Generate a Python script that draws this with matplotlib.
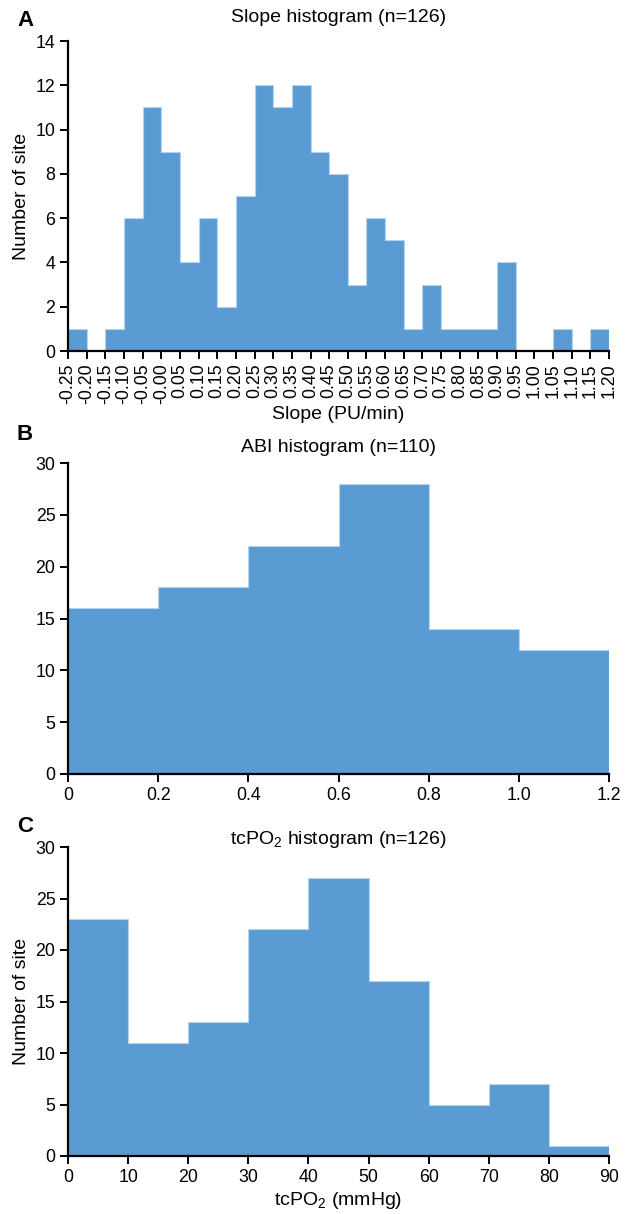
import numpy as np
import matplotlib
matplotlib.use('Agg')
import matplotlib.pyplot as plt

plt.rcParams['font.family'] = ['Liberation Sans', 'DejaVu Sans']
plt.rcParams['mathtext.default'] = 'regular'

# panel A: slope histogram, bin width 0.05
slope_edges = np.round(np.arange(-0.25, 1.2001, 0.05), 2)
slope_counts = [1, 0, 1, 6, 11, 9, 4, 6, 2, 7, 12, 11, 12, 9, 8,
                3, 6, 5, 1, 3, 1, 1, 1, 4, 0, 0, 1, 0, 1]
slope_ticklabels = ['-0.25', '-0.20', '-0.15', '-0.10', '-0.05', '-0.00',
                    '0.05', '0.10', '0.15', '0.20', '0.25', '0.30', '0.35',
                    '0.40', '0.45', '0.50', '0.55', '0.60', '0.65', '0.70',
                    '0.75', '0.80', '0.85', '0.90', '0.95', '1.00', '1.05',
                    '1.10', '1.15', '1.20']

# panel B: ABI histogram
abi_edges = [0, 0.2, 0.4, 0.6, 0.8, 1.0, 1.2]
abi_counts = [16, 18, 22, 28, 14, 12]
abi_ticklabels = ['0', '0.2', '0.4', '0.6', '0.8', '1.0', '1.2']

# panel C: tcPO2 histogram
tcpo2_edges = [0, 10, 20, 30, 40, 50, 60, 70, 80, 90]
tcpo2_counts = [23, 11, 13, 22, 27, 17, 5, 7, 1]

BAR = '#5b9bd3'
EDGE = '#b5d4f0'
W, H = 633, 1214

fig = plt.figure(figsize=(W / 100, H / 100), dpi=100)


def make_ax(top_px, bottom_px):
    left, right = 68, 609
    return fig.add_axes([left / W, 1 - bottom_px / H, (right - left) / W,
                         (bottom_px - top_px) / H])


def style(ax):
    for s in ['top', 'right']:
        ax.spines[s].set_visible(False)
    for s in ['left', 'bottom']:
        ax.spines[s].set_linewidth(1.6)
    ax.tick_params(direction='out', length=6, width=1.4, labelsize=12.8,
                   pad=3)


ax_a = make_ax(41, 351)
ax_b = make_ax(463, 774)
ax_c = make_ax(847, 1156)

ax_a.stairs(slope_counts, slope_edges, fill=True, facecolor=BAR,
            edgecolor=EDGE, linewidth=0.8)
ax_a.set_xlim(-0.25, 1.20)
ax_a.set_ylim(0, 14)
ax_a.set_yticks(range(0, 15, 2))
ax_a.set_xticks(slope_edges)
ax_a.set_xticklabels(slope_ticklabels, rotation=90)
ax_a.set_xlabel('Slope (PU/min)', fontsize=14, labelpad=1)
ax_a.set_ylabel('Number of site', fontsize=14, labelpad=4)
style(ax_a)

ax_b.stairs(abi_counts, abi_edges, fill=True, facecolor=BAR,
            edgecolor=EDGE, linewidth=0.8)
ax_b.set_xlim(0, 1.2)
ax_b.set_ylim(0, 30)
ax_b.set_yticks(range(0, 31, 5))
ax_b.set_xticks(abi_edges)
ax_b.set_xticklabels(abi_ticklabels)
style(ax_b)

ax_c.stairs(tcpo2_counts, tcpo2_edges, fill=True, facecolor=BAR,
            edgecolor=EDGE, linewidth=0.8)
ax_c.set_xlim(0, 90)
ax_c.set_ylim(0, 30)
ax_c.set_yticks(range(0, 31, 5))
ax_c.set_xticks(tcpo2_edges)
ax_c.set_xlabel('tcPO$_2$ (mmHg)', fontsize=14, labelpad=3)
ax_c.set_ylabel('Number of site', fontsize=14, labelpad=4)
style(ax_c)

# titles and panel letters
cx = (68 + 609) / 2 / W
fig.text(cx, 1 - 18 / H, 'Slope histogram (n=126)', ha='center', va='center', fontsize=14)
fig.text(cx, 1 - 448 / H, 'ABI histogram (n=110)', ha='center', va='center', fontsize=14)
fig.text(cx, 1 - 840 / H, 'tcPO$_2$ histogram (n=126)', ha='center', va='center', fontsize=14)
for letter, y in [('A', 20), ('B', 435), ('C', 826)]:
    fig.text(17 / W, 1 - y / H, letter, ha='left', va='center',
             fontsize=16, fontweight='bold')

fig.savefig('out.png', dpi=100)
